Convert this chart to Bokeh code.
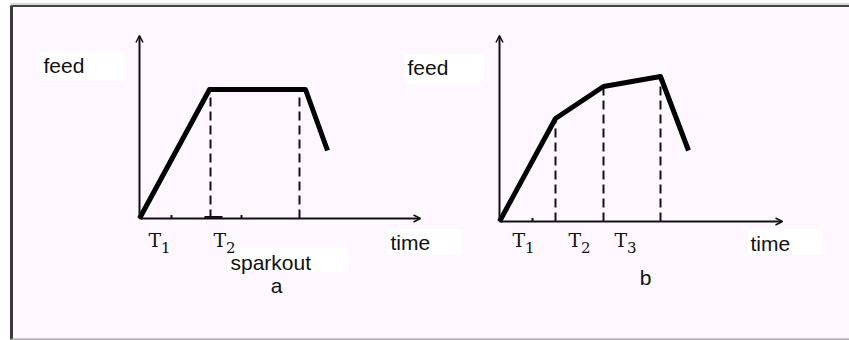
from bokeh.plotting import figure
from bokeh.models import Range1d, Arrow, OpenHead
from bokeh.core.properties import value
from bokeh.embed import file_html
from bokeh.resources import INLINE

# ---- data (schematic units: time, feed) ----
# panel a
a_time = [0.0, 7.0, 16.6, 18.8]
a_feed = [0.0, 12.9, 12.9, 6.8]
a_dash_time = [7.1, 16.0]
a_dash_top = [12.1, 12.1]
a_tick_time = [3.2, 10.2]
a_sparkout_time = [6.5, 8.3]
a_label_time = [0.9, 7.4]
a_label_main = ["T", "T"]
a_label_sub = ["1", "2"]
a_axis_time_end = 28.1
a_axis_feed_end = 18.3

# panel b
b_time = [0.0, 5.6, 10.4, 16.1, 18.9]
b_feed = [0.0, 10.3, 13.5, 14.5, 7.1]
b_dash_time = [5.6, 10.4, 16.1]
b_dash_top = [10.3, 13.5, 14.5]
b_tick_time = [3.3]
b_label_time = [1.3, 6.9, 11.5]
b_label_main = ["T", "T", "T"]
b_label_sub = ["1", "2", "3"]
b_axis_time_end = 28.3
b_axis_feed_end = 18.6

BG = "#fff7ff"
INK = "#111111"
SANS = value("Liberation Sans")
SERIF = value("DejaVu Serif")

p = figure(width=849, height=340, output_backend="svg", toolbar_location=None,
           x_range=Range1d(-13.9, 71.0), y_range=Range1d(-12.2, 21.8),
           x_axis_location=None, y_axis_location=None, min_border=0,
           background_fill_color=BG, border_fill_color="white",
           outline_line_color=None)
p.grid.visible = False
p.extra_x_ranges = {"b": Range1d(-49.9, 35.0)}
p.extra_y_ranges = {"b": Range1d(-11.9, 22.1)}

# outer frame
p.quad(left=[-14.0], right=[-12.9], bottom=[-13], top=[23], color="white")
p.quad(left=[-14.0], right=[72], bottom=[21.4], top=[23], color="white")
p.segment(x0=[-12.9], y0=[21.45], x1=[72], y1=[21.45], line_color="#b0b0b0", line_width=1)
p.segment(x0=[-12.8], y0=[-12.1], x1=[-12.8], y1=[21.3], line_color="#3a3a3a", line_width=3)
p.segment(x0=[-12.8], y0=[21.25], x1=[72], y1=[21.25], line_color="#444444", line_width=2)
p.segment(x0=[-12.8], y0=[-12.1], x1=[72], y1=[-12.1], line_color="#aaaaaa", line_width=2)

# white label boxes
p.quad(left=[-9.9, 24.9, 8.9], right=[-1.6, 32.1, 20.8],
       bottom=[13.8, -3.6, -5.3], top=[16.6, -1.1, -3.0], color="white")
p.quad(left=[-9.4, 24.9], right=[-1.6, 32.3], bottom=[13.8, -3.3], top=[16.7, -0.8],
       color="white", x_range_name="b", y_range_name="b")

# ---- panel a ----
p.add_layout(Arrow(end=OpenHead(size=7, line_width=1.5, line_color=INK), x_start=0, y_start=0,
                   x_end=a_axis_time_end, y_end=0, line_width=2, line_color=INK))
p.add_layout(Arrow(end=OpenHead(size=7, line_width=1.5, line_color=INK), x_start=0, y_start=0,
                   x_end=0, y_end=a_axis_feed_end, line_width=2, line_color=INK))
p.segment(x0=a_tick_time, y0=[0] * len(a_tick_time), x1=a_tick_time, y1=[0.35] * len(a_tick_time),
          line_color=INK, line_width=2)
p.segment(x0=[a_sparkout_time[0]], y0=[0.1], x1=[a_sparkout_time[1]], y1=[0.1],
          line_color=INK, line_width=3)
p.segment(x0=a_dash_time, y0=[0] * len(a_dash_time), x1=a_dash_time, y1=a_dash_top,
          line_color=INK, line_width=2, line_dash="9 5")
p.line(a_time, a_feed, line_color="black", line_width=5, line_join="round")

p.text(x=a_label_time, y=[-2.1] * len(a_label_time), text=a_label_main, text_font=SERIF,
       text_font_size="19px", text_baseline="middle", text_color=INK)
p.text(x=[t + 1.25 for t in a_label_time], y=[-2.9] * len(a_label_time), text=a_label_sub,
       text_font=SERIF, text_font_size="15px", text_baseline="middle", text_color=INK)
p.text(x=[-9.6, 25.1, 9.1], y=[15.3, -2.4, -4.4], text=["feed", "time", "sparkout"],
       text_font=SANS, text_font_size="21px", text_baseline="middle", text_color=INK)
p.text(x=[13.7], y=[-6.7], text=["a"], text_font=SANS, text_font_size="21px",
       text_baseline="middle", text_align="center", text_color=INK)

# ---- panel b ----
p.add_layout(Arrow(end=OpenHead(size=7, line_width=1.5, line_color=INK), x_start=0, y_start=0,
                   x_end=b_axis_time_end, y_end=0, line_width=2, line_color=INK,
                   x_range_name="b", y_range_name="b"))
p.add_layout(Arrow(end=OpenHead(size=7, line_width=1.5, line_color=INK), x_start=0, y_start=0,
                   x_end=0, y_end=b_axis_feed_end, line_width=2, line_color=INK,
                   x_range_name="b", y_range_name="b"))
p.segment(x0=b_tick_time, y0=[0] * len(b_tick_time), x1=b_tick_time, y1=[0.35] * len(b_tick_time),
          line_color=INK, line_width=2, x_range_name="b", y_range_name="b")
p.segment(x0=b_dash_time, y0=[0] * len(b_dash_time), x1=b_dash_time, y1=b_dash_top,
          line_color=INK, line_width=2, line_dash="9 5", x_range_name="b", y_range_name="b")
p.line(b_time, b_feed, line_color="black", line_width=5, line_join="round",
       x_range_name="b", y_range_name="b")

p.text(x=b_label_time, y=[-1.8] * len(b_label_time), text=b_label_main, text_font=SERIF,
       text_font_size="19px", text_baseline="middle", text_color=INK,
       x_range_name="b", y_range_name="b")
p.text(x=[t + 1.25 for t in b_label_time], y=[-2.6] * len(b_label_time), text=b_label_sub,
       text_font=SERIF, text_font_size="15px", text_baseline="middle", text_color=INK,
       x_range_name="b", y_range_name="b")
p.text(x=[-9.2, 25.1], y=[15.4, -2.2], text=["feed", "time"],
       text_font=SANS, text_font_size="21px", text_baseline="middle", text_color=INK,
       x_range_name="b", y_range_name="b")
p.text(x=[14.6], y=[-5.6], text=["b"], text_font=SANS, text_font_size="21px",
       text_baseline="middle", text_align="center", text_color=INK,
       x_range_name="b", y_range_name="b")

open("out.html", "w").write(file_html(p, INLINE))
